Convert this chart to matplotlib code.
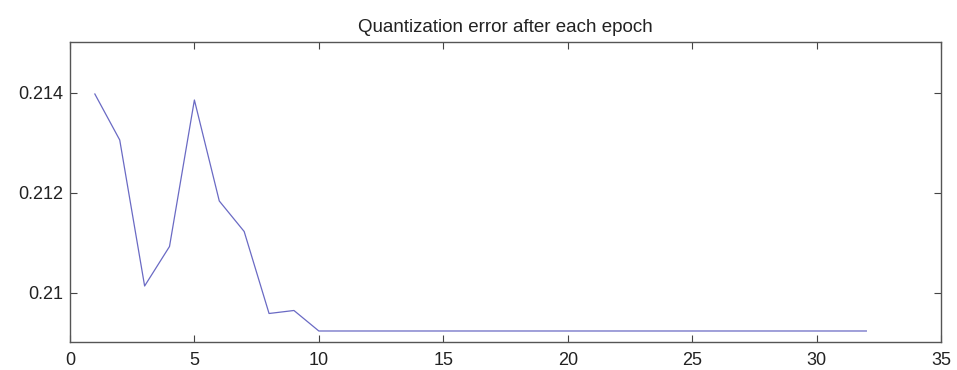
import matplotlib
matplotlib.use("Agg")
from matplotlib import pyplot as plt

epochs = list(range(1, 33))
qerr = [0.21398, 0.21306, 0.21014, 0.21093, 0.21386, 0.21184, 0.21123,
        0.20959, 0.20965] + [0.20924] * 23

y_ticks = [0.21, 0.212, 0.214]
y_labels = ["0.21", "0.212", "0.214"]

plt.rcParams['font.family'] = ['Liberation Sans', 'DejaVu Sans']

fig = plt.figure(figsize=(9.57, 3.70), dpi=100)
ax = fig.add_axes([0.0731, 0.0757, 0.9102, 0.8108])

ax.plot(epochs, qerr, color="#6a6ac4", linewidth=0.9)

ax.set_xlim(0, 35)
ax.set_ylim(0.20902, 0.21502)
ax.set_xticks(range(0, 36, 5))
ax.set_yticks(y_ticks)
ax.set_yticklabels(y_labels)
ax.tick_params(direction="in", top=True, right=True, length=5,
               labelsize=13, color="#444444", labelcolor="#222222")
ax.tick_params(axis="x", pad=7)
ax.tick_params(axis="y", pad=5)
for s in ax.spines.values():
    s.set_color("#555555")
    s.set_linewidth(1.0)

ax.set_title("Quantization error after each epoch", fontsize=13.5, color="#222222", pad=7)

fig.savefig("out.png", dpi=100)
